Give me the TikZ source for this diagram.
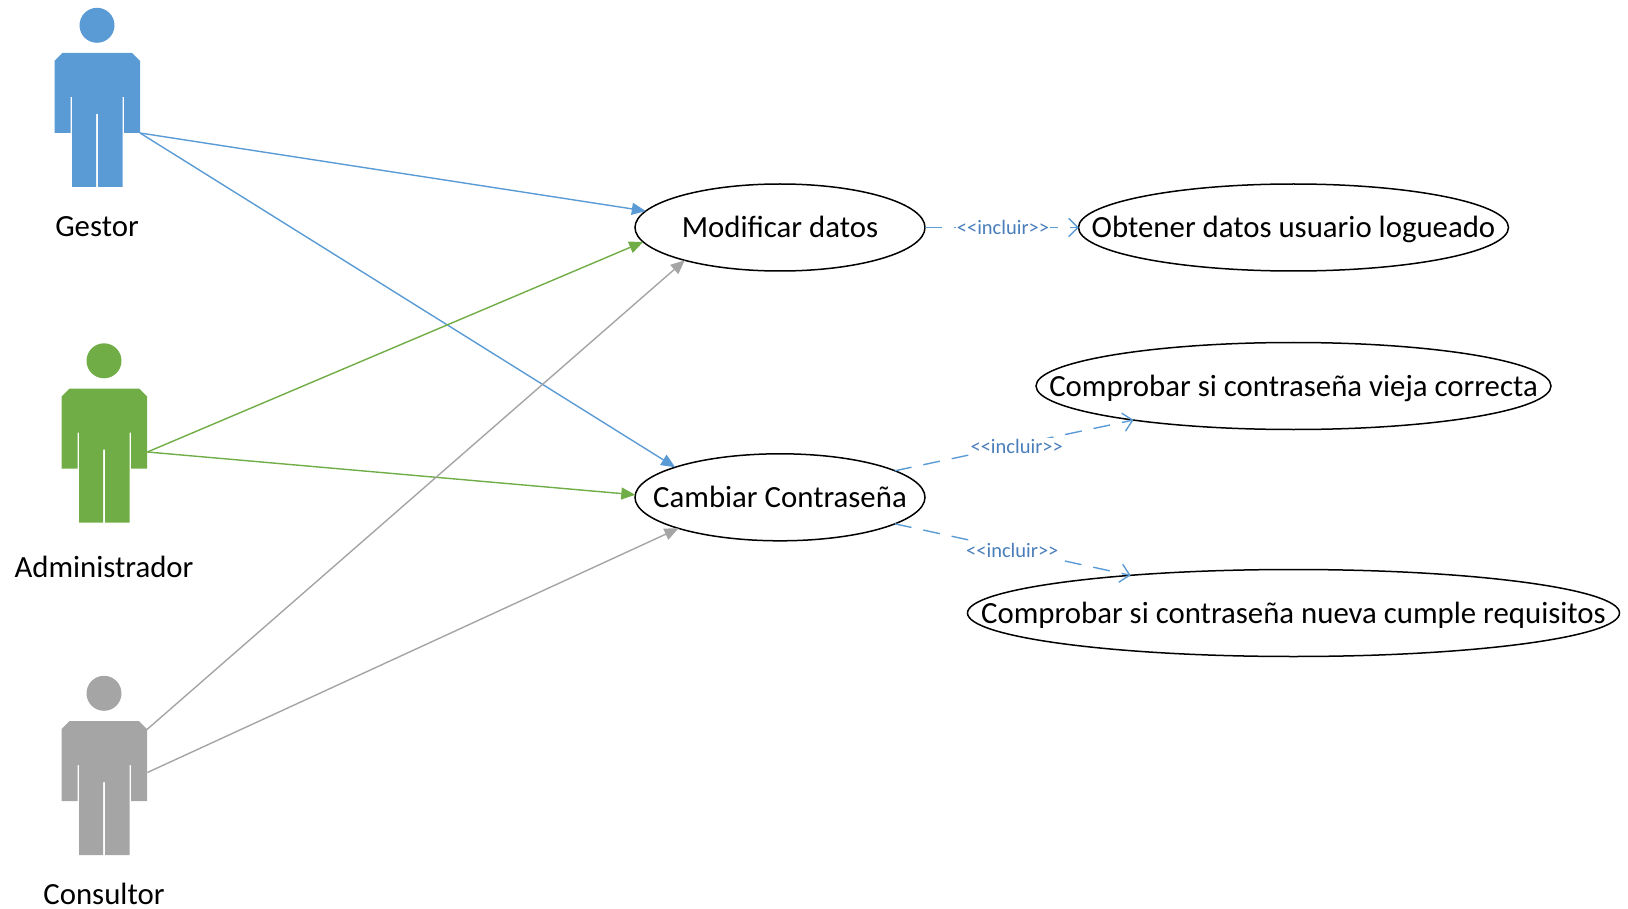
\documentclass[tikz,border=0pt]{standalone}
\usepackage{fontspec}
\setmainfont{Carlito}
\usetikzlibrary{arrows.meta,shapes.geometric}
\definecolor{actblue}{HTML}{5B9BD5}
\definecolor{actgreen}{HTML}{70AD47}
\definecolor{actgray}{HTML}{A5A5A5}
\definecolor{inclcol}{HTML}{4A7EBB}
\newcommand{\uctext}[1]{\makebox[0pt][c]{\raisebox{-4pt}{\vphantom{Ápy}#1}}}
\tikzset{
  usecase/.style={ellipse,draw=black,line width=1.5pt,fill=white,inner sep=0pt,outer sep=0pt,minimum height=87pt,font=\fontsize{30.8}{34}\selectfont,text=black},
  actorlabel/.style={inner sep=0pt,font=\fontsize{30.8}{34}\selectfont,text=black},
  assoc/.style={line width=1.4pt,-{Triangle[length=14pt,width=12pt]}},
  incl/.style={draw=actblue,line width=1.4pt,dash pattern=on 17pt off 12pt,-{Straight Barb[length=9pt,width=18pt,line width=1.4pt,round]}},
  incllabel/.style={fill=white,inner xsep=1pt,inner ysep=2pt,text=inclcol,font=\fontsize{20.5}{24}\selectfont},
  actor/.pic={
    \fill[pic actions] (0,-27.7) circle[radius=17.5pt];
    \fill[pic actions] (-34.5,0) -- (35,0) -- (43,8) -- (43,80) -- (27,80) -- (27,44) -- (25.5,44) -- (25.5,134) -- (1,134) -- (1,61) -- (-1,61) -- (-1,134) -- (-25,134) -- (-25,44) -- (-26.5,44) -- (-26.5,80) -- (-42.5,80) -- (-42.5,8) -- cycle;
  }
}
\begin{document}
\begin{tikzpicture}[x=1pt,y=-1pt]
\useasboundingbox (0,0) rectangle (1628,909);
% actors
\pic[fill=actblue] at (97,53) {actor};
\pic[fill=actgreen] at (104,388.5) {actor};
\pic[fill=actgray] at (104,721) {actor};
\node[actorlabel] (lgestor) at (97,226.5) {Gestor};
\node[actorlabel] (ladmin) at (104,566.5) {Administrador};
\node[actorlabel] (lcons) at (104,893.5) {Consultor};
\coordinate (gestor) at (140,133);
\coordinate (admin) at (147.4,452);
\coordinate (consA) at (146.4,730);
\coordinate (consB) at (147.4,772.5);
% use cases
\node[usecase,minimum width=290pt] (mod) at (780,227.5) {\uctext{Modificar datos}};
\node[usecase,minimum width=290pt] (cam) at (780,497.3) {\uctext{Cambiar Contraseña}};
\node[usecase,minimum width=430pt] (obt) at (1293.5,227.5) {\uctext{Obtener datos usuario logueado}};
\node[usecase,minimum width=515pt] (vie) at (1293.5,386) {\uctext{Comprobar si contraseña vieja correcta}};
\node[usecase,minimum width=652pt] (nue) at (1293.5,613) {\uctext{Comprobar si contraseña nueva cumple requisitos}};
% associations
\draw[assoc,actblue] (gestor) -- (mod.173.4);
\draw[assoc,actblue] (gestor) -- (cam.164.9);
\draw[assoc,actgreen] (admin) -- (mod.186.5);
\draw[assoc,actgreen] (admin) -- (cam.179);
\draw[assoc,actgray] (consA) -- (mod.199);
\draw[assoc,actgray] (consB) -- (cam.197.2);
% includes
\draw[incl] (mod.east) -- (obt.west);
\draw[incl] (cam.13.5) -- (vie.192.5);
\draw[incl] (cam.-13.8) -- (nue.167.9);
\node[incllabel] (i1) at (1003,227.5) {<{}<incluir>{}>};
\node[incllabel] (i2) at (1016.7,446.7) {<{}<incluir>{}>};
\node[incllabel] (i3) at (1012.3,550.7) {<{}<incluir>{}>};
\end{tikzpicture}
\end{document}
